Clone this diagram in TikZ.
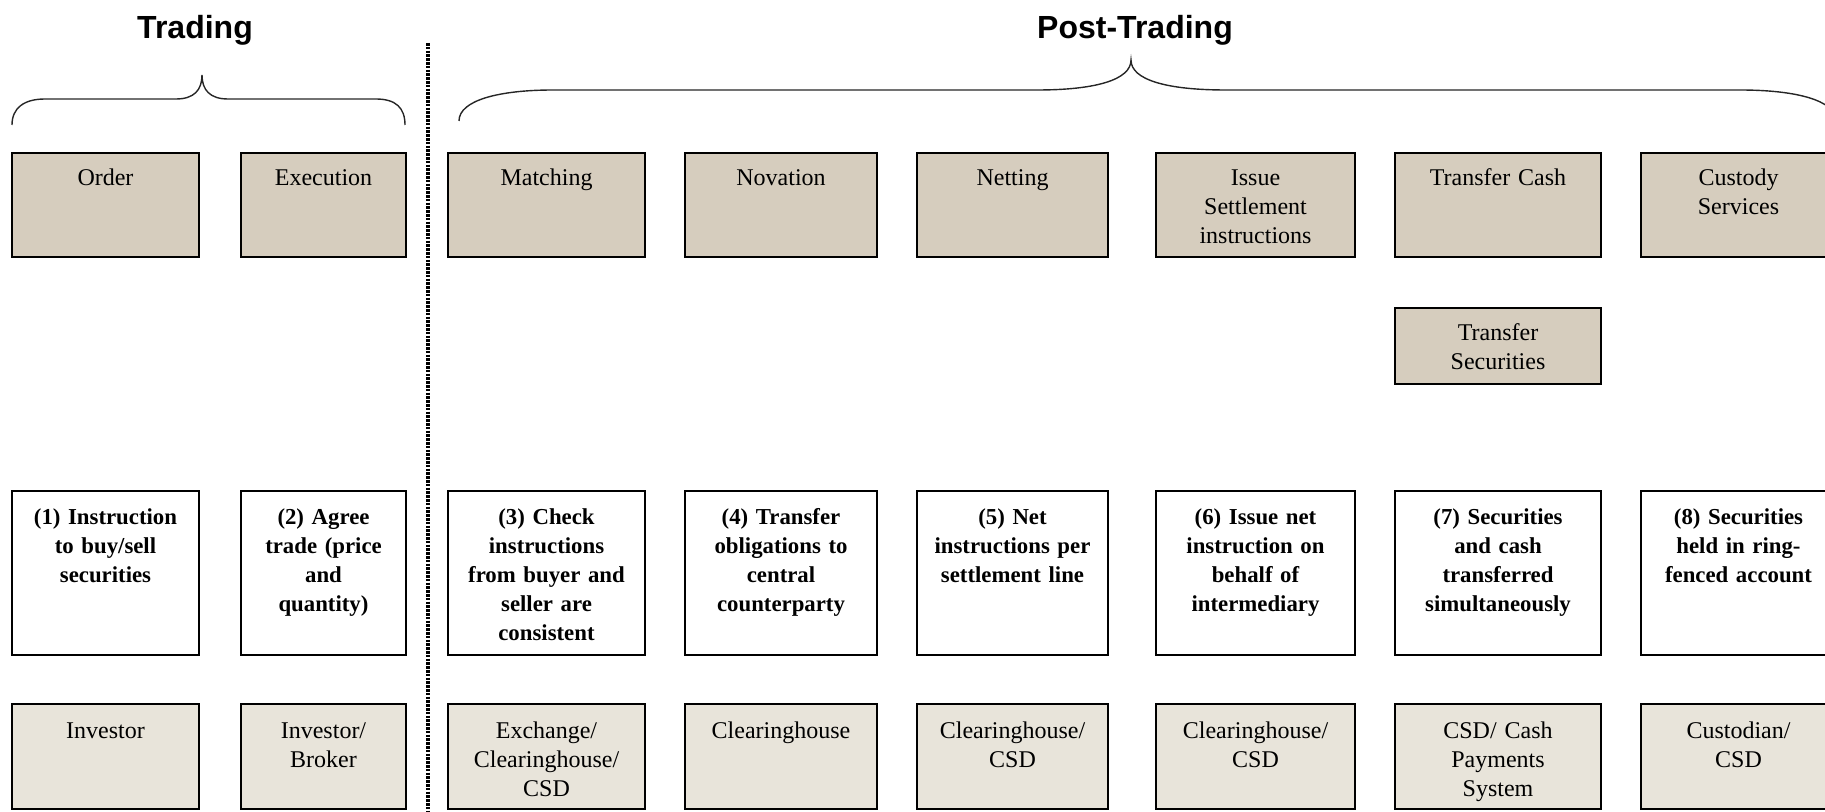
\documentclass[tikz,border=0pt]{standalone}
\usepackage{fontspec}
\setmainfont{Liberation Serif}
\newfontfamily\headfont{Liberation Sans}
\definecolor{topfill}{HTML}{D6CDBE}
\definecolor{botfill}{HTML}{E8E4DA}
\tikzset{
  boxframe/.style={draw=black, line width=1.4pt, inner sep=0pt, outer sep=0pt, rectangle},
  topbox/.style={boxframe, fill=topfill},
  midbox/.style={boxframe, fill=white},
  botbox/.style={boxframe, fill=botfill},
  regtxt/.style={align=center, inner sep=0pt, font=\fontsize{12}{14.5}\selectfont},
  boldtxt/.style={align=center, inner sep=0pt, font=\fontsize{11.4}{14.5}\selectfont\bfseries},
  headtxt/.style={inner sep=0pt, font=\headfont\bfseries\fontsize{16}{19}\selectfont},
  bracepath/.style={line width=0.7pt, draw=black!85},
  divider/.style={line width=1.9pt, dash pattern=on 1.3pt off 0.6pt}
}
% #1 name, #2 box style, #3 x1, #4 y1, #5 x2, #6 y2, #7 text style, #8 baseline offset, #9 text
\newcommand{\mybox}[9]{%
  \node[#2, anchor=north west, minimum width={(#5-#3)*0.5pt}, minimum height={(#6-#4)*0.5pt}] (#1) at (#3,#4) {};
  \node[#7, anchor=base, text width={(#5-#3)*0.5pt-6pt}] (#1-t) at ([yshift={-#8*0.5pt}]#1.north) {#9};
}
\begin{document}
\begin{tikzpicture}[x=0.5pt, y=-0.5pt]
\useasboundingbox (0,0) rectangle (1825,812);
\clip (0,0) rectangle (1825,812);
% headings
\node[headtxt, anchor=base] (trading) at (195,39) {Trading};
\node[headtxt, anchor=base] (posttrading) at (1135,39) {Post-Trading};
% braces
\draw[bracepath] (12,125) .. controls (12,108) and (24,99) .. (45,99) -- (176,99)
  .. controls (194,99) and (202,90) .. (202,75)
  .. controls (202,90) and (210,99) .. (228,99) -- (376,99)
  .. controls (396,99) and (405,108) .. (405,125);
\draw[bracepath] (459,121) .. controls (459,100) and (500,90) .. (553,90) -- (1037,90)
  .. controls (1095,90) and (1131,80) .. (1131,60)
  .. controls (1131,80) and (1167,90) .. (1226,90) -- (1740,90)
  .. controls (1795,90) and (1836,100) .. (1836,121);
% divider
\coordinate (dtop) at (428,43);
\coordinate (dbot) at (428,812);
\draw[divider] (dtop) -- (dbot);
% top row
\mybox{order}{topbox}{12}{153}{199}{257}{regtxt}{33}{Order}
\mybox{execution}{topbox}{241}{153}{406}{257}{regtxt}{33}{Execution}
\mybox{matching}{topbox}{448}{153}{645}{257}{regtxt}{33}{Matching}
\mybox{novation}{topbox}{685}{153}{877}{257}{regtxt}{33}{Novation}
\mybox{netting}{topbox}{917}{153}{1108}{257}{regtxt}{33}{Netting}
\mybox{issue}{topbox}{1156}{153}{1355}{257}{regtxt}{33}{Issue\\Settlement\\instructions}
\mybox{cash}{topbox}{1395}{153}{1601}{257}{regtxt}{33}{Transfer Cash}
\mybox{custody}{topbox}{1641}{153}{1836}{257}{regtxt}{33}{Custody\\Services}
\mybox{securities}{topbox}{1395}{308}{1601}{384}{regtxt}{33}{Transfer\\Securities}
% middle row
\mybox{d1}{midbox}{12}{491}{199}{655}{boldtxt}{33}{(1) Instruction\\to buy/sell\\securities}
\mybox{d2}{midbox}{241}{491}{406}{655}{boldtxt}{33}{(2) Agree\\trade (price\\and\\quantity)}
\mybox{d3}{midbox}{448}{491}{645}{655}{boldtxt}{33}{(3) Check\\instructions\\from buyer and\\seller are\\consistent}
\mybox{d4}{midbox}{685}{491}{877}{655}{boldtxt}{33}{(4) Transfer\\obligations to\\central\\counterparty}
\mybox{d5}{midbox}{917}{491}{1108}{655}{boldtxt}{33}{(5) Net\\instructions per\\settlement line}
\mybox{d6}{midbox}{1156}{491}{1355}{655}{boldtxt}{33}{(6) Issue net\\instruction on\\behalf of\\intermediary}
\mybox{d7}{midbox}{1395}{491}{1601}{655}{boldtxt}{33}{(7) Securities\\and cash\\transferred\\simultaneously}
\mybox{d8}{midbox}{1641}{491}{1836}{655}{boldtxt}{33}{(8) Securities\\held in ring-\\fenced account}
% bottom row
\mybox{a1}{botbox}{12}{704}{199}{809}{regtxt}{34}{Investor}
\mybox{a2}{botbox}{241}{704}{406}{809}{regtxt}{34}{Investor/\\Broker}
\mybox{a3}{botbox}{448}{704}{645}{809}{regtxt}{34}{Exchange/\\Clearinghouse/\\CSD}
\mybox{a4}{botbox}{685}{704}{877}{809}{regtxt}{34}{Clearinghouse}
\mybox{a5}{botbox}{917}{704}{1108}{809}{regtxt}{34}{Clearinghouse/\\CSD}
\mybox{a6}{botbox}{1156}{704}{1355}{809}{regtxt}{34}{Clearinghouse/\\CSD}
\mybox{a7}{botbox}{1395}{704}{1601}{809}{regtxt}{34}{CSD/ Cash\\Payments\\System}
\mybox{a8}{botbox}{1641}{704}{1836}{809}{regtxt}{34}{Custodian/\\CSD}
\end{tikzpicture}
\end{document}
